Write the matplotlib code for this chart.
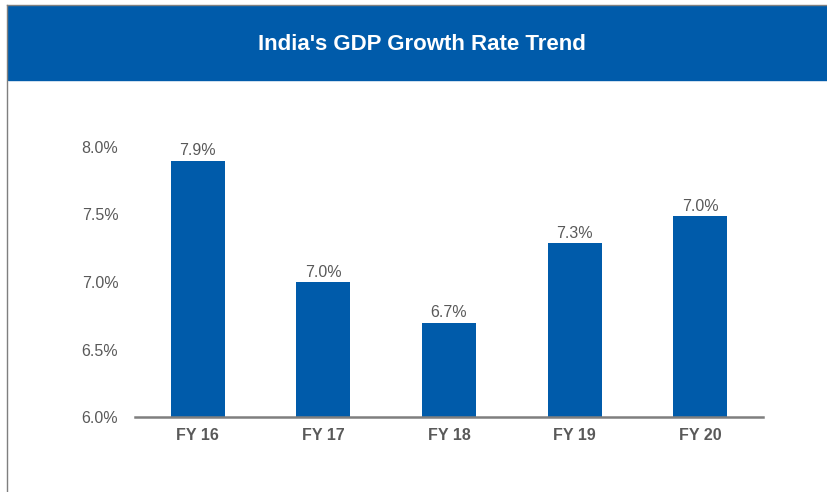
import matplotlib
matplotlib.use("Agg")
from matplotlib import pyplot as plt
from matplotlib.patches import Rectangle
from matplotlib.lines import Line2D

# data
years = ["FY 16", "FY 17", "FY 18", "FY 19", "FY 20"]
growth = [7.9, 7.0, 6.7, 7.29, 7.49]
bar_labels = ["7.9%", "7.0%", "6.7%", "7.3%", "7.0%"]
y_ticks = [6.0, 6.5, 7.0, 7.5, 8.0]

blue = "#005BAA"
grey_text = "#595959"

plt.rcParams['font.family'] = ['Liberation Sans', 'DejaVu Sans']

fig = plt.figure(figsize=(8.28, 4.92), dpi=100)

# title banner + frame lines
fig.patches.append(Rectangle((8 / 828, 1 - 80 / 492), 1, 74 / 492,
                             transform=fig.transFigure, color=blue, zorder=0))
fig.lines.append(Line2D([7 / 828, 7 / 828], [0, 1 - 5 / 492],
                        transform=fig.transFigure, color="#7f7f7f", lw=1))
fig.lines.append(Line2D([7 / 828, 1], [1 - 5 / 492, 1 - 5 / 492],
                        transform=fig.transFigure, color="#7f7f7f", lw=1))
fig.text(422 / 828, 1 - 44 / 492, "India's GDP Growth Rate Trend",
         ha="center", va="center", color="white", fontsize=16,
         fontweight="bold")

ax = fig.add_axes([135 / 828, 75 / 492, 628 / 828, 270 / 492])
x = range(len(years))
bars = ax.bar(x, growth, width=0.43, color=blue, bottom=0)
ax.set_ylim(6.0, 8.0)
ax.set_xlim(-0.5, len(years) - 0.5)

for b, lab in zip(bars, bar_labels):
    ax.text(b.get_x() + b.get_width() / 2, b.get_height() + 0.015, lab,
            ha="center", va="bottom", color=grey_text, fontsize=11.5)

ax.set_yticks(y_ticks)
ax.set_yticklabels(["%.1f%%" % t for t in y_ticks], color=grey_text, fontsize=11.5)
ax.set_xticks(list(x))
ax.set_xticklabels(years, color=grey_text, fontsize=11.5, fontweight="bold")
ax.tick_params(axis="both", length=0)
ax.tick_params(axis="y", pad=12)
ax.tick_params(axis="x", pad=8)

for s in ["top", "right", "left"]:
    ax.spines[s].set_visible(False)
ax.spines["bottom"].set_color("#7f7f7f")
ax.spines["bottom"].set_linewidth(1.8)

fig.savefig("out.png", dpi=100)
